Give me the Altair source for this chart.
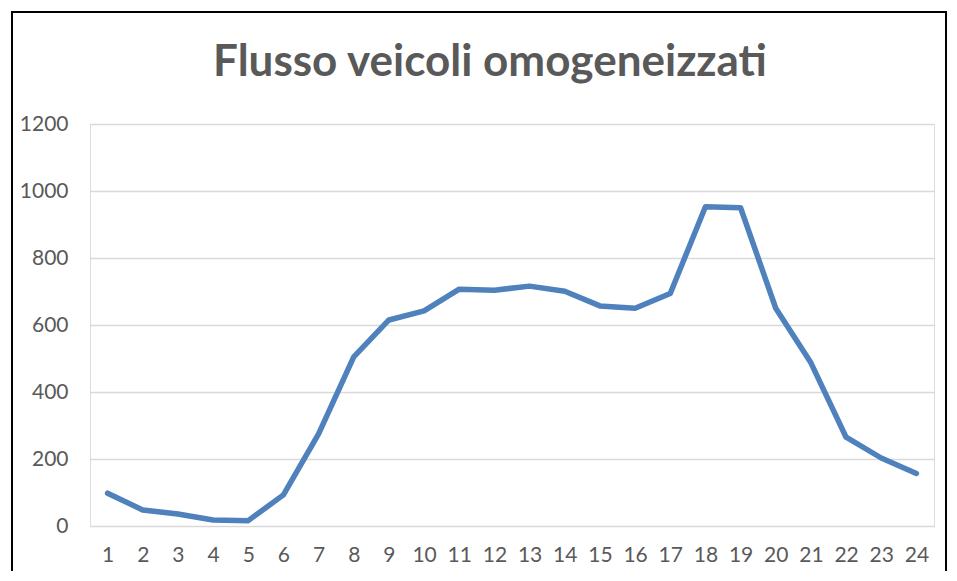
import altair as alt
import pandas as pd

hours = [str(h) for h in range(1, 25)]
flow = [98, 48, 36, 18, 16, 93, 275, 505, 615, 642, 707, 704,
        716, 701, 657, 650, 694, 953, 950, 650, 487, 265, 203, 157]

TITLE = "Flusso veicoli omogeneizzati"
FONT = "Lato"
GREY = "#595959"

df = pd.DataFrame({"hour": hours, "flow": flow})
title_df = pd.DataFrame({"t": [TITLE]})

W, H = 844, 402

line = alt.Chart(df).mark_line(
    color="#4F81BD", strokeWidth=5.5, strokeCap="round", strokeJoin="round"
).encode(
    x=alt.X("hour:N", sort=hours, title=None,
            scale=alt.Scale(paddingInner=1, paddingOuter=0.5),
            axis=alt.Axis(labelAngle=0, grid=False, domain=False, ticks=False,
                          labelFont=FONT, labelFontSize=21, labelColor=GREY,
                          labelPadding=18)),
    y=alt.Y("flow:Q", title=None,
            scale=alt.Scale(domain=[0, 1200]),
            axis=alt.Axis(values=[0, 200, 400, 600, 800, 1000, 1200], format="d",
                          domain=False, ticks=False, gridColor="#D9D9D9",
                          gridWidth=1.5, labelFont=FONT, labelFontSize=21,
                          labelColor=GREY, labelPadding=22)),
)

border = alt.Chart(df).mark_rect(
    fill=None, stroke="#000000", strokeWidth=1.5
).encode(
    x=alt.value(-78), x2=alt.value(856), y=alt.value(-112), y2=alt.value(520)
)

title = alt.Chart(title_df).mark_text(
    font=FONT, fontSize=44, fontWeight="bold", color=GREY,
    align="center", baseline="alphabetic"
).encode(
    text="t:N", x=alt.value(400), y=alt.value(-48)
)

chart = alt.layer(border, line, title).properties(
    width=W, height=H,
    autosize=alt.AutoSizeParams(type="none"),
    padding={"left": 82, "top": 116, "right": 14, "bottom": 45},
).configure_view(stroke=None).configure(background="white")

chart.save("out.html", embed_options={"renderer": "svg", "actions": False})
